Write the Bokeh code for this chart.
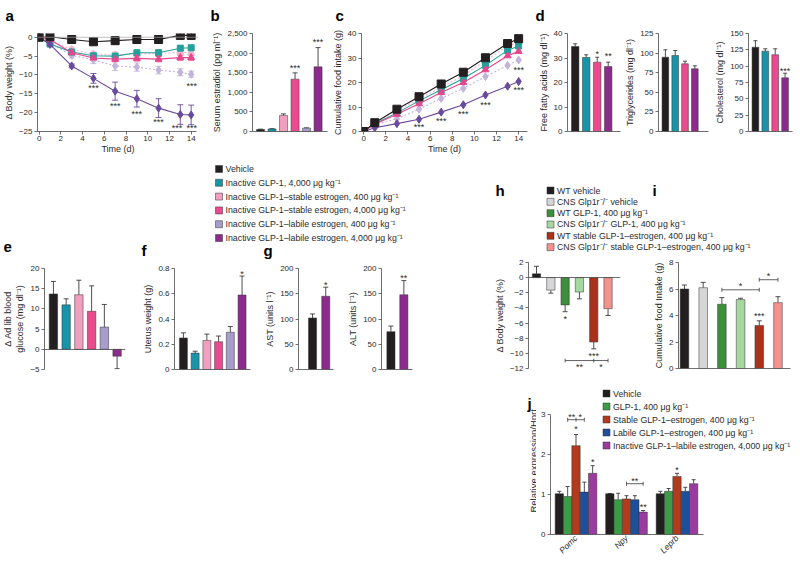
import math
from bokeh.plotting import figure
from bokeh.models import Range1d, FixedTicker, Whisker, TeeHead, Span, ColumnDataSource, Spacer
from bokeh.layouts import row, column
from bokeh.embed import file_html
from bokeh.resources import INLINE
from bokeh.core.properties import value

FONT = "Liberation Sans"
AXC = "#4a4a4a"
TXC = "#2b2b2b"
ERRC = "#3a3a3a"
BARL = "#333333"
LEGFS = "8.8px"

# ---------------- DATA ----------------
days = [0, 1, 3, 5, 7, 9, 11, 13, 14]
time_ticks = [0, 2, 4, 6, 8, 10, 12, 14]

groups6 = ["Vehicle",
           "Inactive GLP-1, 4,000 μg kg⁻¹",
           "Inactive GLP-1–stable estrogen, 400 μg kg⁻¹",
           "Inactive GLP-1–stable estrogen, 4,000 μg kg⁻¹",
           "Inactive GLP-1–labile estrogen, 400 μg kg⁻¹",
           "Inactive GLP-1–labile estrogen, 4,000 μg kg⁻¹"]
colors6 = ["#231f20", "#1993a8", "#f19fbf", "#ea4b8e", "#a79ccc", "#8b2c8d"]
line_colors6 = ["#231f20", "#23a09c", "#f2b3cb", "#e6468c", "#c3b3da", "#6a4a9c"]
markers6 = ["square", "square", "triangle", "triangle", "diamond", "diamond"]
marker_sizes6 = [8, 6, 7, 7, 8, 8]
dashes6 = ["solid", "solid", "2 2", "solid", "2 2", "solid"]

# a: change in body weight (%)
a_vehicle = [0, 0.15, -0.6, -1.2, -0.9, -0.6, -0.6, 0.5, 0.5]
a_vehicle_err = [0.2, 0.3, 0.4, 0.4, 1.0, 0.9, 0.9, 1.0, 1.0]
a_inactive = [0, -1.8, -3.9, -4.9, -5.0, -4.1, -4.1, -2.9, -2.8]
a_inactive_err = [0.1, 0.3, 0.5, 0.6, 0.6, 0.6, 0.7, 0.7, 0.7]
a_stable400 = [0, -1.0, -3.2, -4.5, -4.7, -4.4, -4.3, -4.0, -4.1]
a_stable400_err = [0.1, 0.3, 0.6, 0.8, 0.8, 0.8, 0.8, 0.8, 0.8]
a_stable4000 = [0, -0.6, -4.1, -5.5, -5.8, -5.6, -5.8, -5.4, -5.4]
a_stable4000_err = [0.1, 0.3, 0.6, 0.7, 0.7, 0.7, 0.7, 0.7, 0.7]
a_labile400 = [0, -1.5, -4.8, -6.0, -7.6, -7.9, -8.7, -9.3, -9.8]
a_labile400_err = [0.1, 0.3, 0.7, 1.0, 1.2, 1.1, 1.0, 0.9, 0.8]
a_labile4000 = [0, -1.9, -7.6, -10.9, -14.3, -16.3, -18.8, -20.5, -20.6]
a_labile4000_err = [0.1, 0.3, 0.5, 1.3, 2.4, 2.2, 2.5, 2.6, 2.6]
a_yticks = [0, -5, -10, -15, -20, -25]
a_star_x = [5, 7, 9, 11, 12.7, 14.05, 14.05]
a_star_y = [-12.8, -17.7, -19.8, -21.9, -23.5, -23.5, -12.4]
a_star_t = ["***"] * 7

# b: serum estradiol (pg/ml)
b_estradiol = [50, 65, 410, 1335, 85, 1650]
b_estradiol_err = [10, 6, 40, 160, 8, 490]
b_yticks = [0, 500, 1000, 1500, 2000, 2500]
b_star_x = [4, 6]
b_star_y = [1680, 2330]
b_star_t = ["***", "***"]

# c: cumulative food intake (g)
c_vehicle = [0, 3.6, 9.1, 14.2, 19.4, 24.2, 30.1, 35.9, 37.9]
c_inactive = [0, 3.2, 7.6, 12.5, 17.0, 21.6, 27.0, 33.1, 34.9]
c_stable400 = [0, 3.4, 8.6, 13.3, 18.0, 22.8, 29.0, 34.8, 36.5]
c_stable4000 = [0, 3.0, 7.0, 11.3, 15.9, 20.0, 25.2, 30.9, 32.7]
c_labile400 = [0, 2.8, 5.2, 9.1, 13.5, 17.6, 22.4, 27.0, 29.2]
c_labile4000 = [0, 1.5, 3.2, 5.0, 7.9, 10.9, 14.9, 18.5, 20.4]
c_yticks = [0, 10, 20, 30, 40]
c_star_x = [5, 7, 9, 11, 14, 14]
c_star_y = [2.8, 5.0, 8.0, 11.6, 17.6, 25.8]
c_star_t = ["***"] * 6

# d: plasma lipids (vehicle, inactive, stable 4000, labile 4000)
d_group_idx = [0, 1, 3, 5]
d_ffa = [34.7, 30.2, 28.3, 26.5]
d_ffa_err = [1.1, 1.1, 2.0, 1.8]
d_ffa_stars = ["", "", "*", "**"]
d_ffa_star_y = [0, 0, 32.4, 31.7]
d_tg = [94.8, 96.9, 86.4, 80.0]
d_tg_err = [9.4, 6.4, 3.3, 3.8]
d_chol = [129.0, 123.0, 117.4, 82.2]
d_chol_err = [10.0, 3.6, 9.2, 7.0]
d_chol_stars = ["", "", "", "***"]
d_chol_star_y = [0, 0, 0, 96.4]
d_ffa_ticks = [0, 10, 20, 30, 40]
d_tg_ticks = [0, 25, 50, 75, 100, 125]
d_chol_ticks = [0, 25, 50, 75, 100, 125, 150]

# e: ad lib blood glucose change
e_glucose = [13.7, 11.0, 13.5, 9.4, 5.5, -1.7]
e_glucose_err = [3.1, 1.5, 3.6, 6.3, 5.6, 3.1]
e_ticks = [-5, 0, 5, 10, 15, 20]

# f: uterus weight
f_uterus = [0.25, 0.13, 0.23, 0.22, 0.295, 0.59]
f_uterus_err = [0.04, 0.015, 0.05, 0.045, 0.045, 0.15]
f_ticks = [0, 0.2, 0.4, 0.6, 0.8]
f_star_x = [6]
f_star_y = [0.775]

# g: liver enzymes (vehicle, labile 4000)
g_group_idx = [0, 5]
g_ast = [102, 145]
g_ast_err = [8, 18]
g_alt = [75, 148]
g_alt_err = [11, 28]
g_ticks = [0, 50, 100, 150, 200]
g_ast_star_y = [172]
g_alt_star_y = [185]

# h / i: WT vs CNS Glp1r-/- mice
hi_groups = ["WT vehicle",
             "CNS Glp1r⁻/⁻ vehicle",
             "WT GLP-1, 400 μg kg⁻¹",
             "CNS Glp1r⁻/⁻ GLP-1, 400 μg kg⁻¹",
             "WT stable GLP-1–estrogen, 400 μg kg⁻¹",
             "CNS Glp1r⁻/⁻ stable GLP-1–estrogen, 400 μg kg⁻¹"]
hi_colors = ["#231f20", "#d6d6d8", "#3d8f3c", "#a7d7a0", "#a8321c", "#f39390"]
h_bw = [0.5, -1.65, -3.6, -1.9, -8.5, -4.1]
h_bw_err = [1.0, 0.4, 0.9, 0.9, 0.9, 0.9]
h_ticks = [2, 0, -2, -4, -6, -8, -10, -12]
h_star_x = [3, 5, 4, 5.5]
h_star_y = [-5.2, -10.15, -11.5, -11.5]
h_star_t = ["*", "***", "**", "*"]
h_brackets = [(3, 6, -10.95, [5])]
i_food = [6.0, 6.1, 4.85, 5.2, 3.25, 4.97]
i_food_err = [0.3, 0.4, 0.5, 0.1, 0.35, 0.45]
i_ticks = [0, 2, 4, 6, 8]
i_star_x = [5, 4, 5.5]
i_star_y = [4.13, 6.4, 7.15]
i_star_t = ["***", "*", "*"]
i_brackets = [(3, 5, 5.94, []), (5, 6, 6.7, [])]

# j: hypothalamic gene expression
j_genes = ["Pomc", "Npy", "Leprb"]
j_groups = ["Vehicle",
            "GLP-1, 400 μg kg⁻¹",
            "Stable GLP-1–estrogen, 400 μg kg⁻¹",
            "Labile GLP-1–estrogen, 400 μg kg⁻¹",
            "Inactive GLP-1–labile estrogen, 4,000 μg kg⁻¹"]
j_colors = ["#231f20", "#3c9b46", "#b23a1d", "#1e4f9b", "#9a3c9e"]
j_vehicle = [1.02, 1.02, 1.02]
j_vehicle_err = [0.06, 0.005, 0.06]
j_glp1 = [0.95, 0.87, 1.08]
j_glp1_err = [0.25, 0.16, 0.07]
j_stable = [2.22, 0.89, 1.45]
j_stable_err = [0.28, 0.08, 0.08]
j_labile = [1.06, 0.87, 1.08]
j_labile_err = [0.25, 0.10, 0.10]
j_inactive = [1.53, 0.56, 1.27]
j_inactive_err = [0.19, 0.04, 0.10]
j_ticks = [0, 1, 2, 3]
j_star_gene = [1, 1, 3, 2, 1, 1, 2]
j_star_group = [2, 4, 2, 4, 1.5, 2.5, 3]
j_star_y = [2.68, 1.87, 1.67, 0.75, 3.0, 3.0, 1.39]
j_star_t = ["*", "*", "*", "**", "**", "*", "**"]
j_brackets = [(1, 1, 3, 2.87, [2]), (2, 2, 4, 1.27, [])]

# ---------------- HELPERS ----------------
def fmt(t):
    if float(t).is_integer():
        s = f"{int(t):,}"
    else:
        s = f"{t:g}"
    return s.replace("-", "−")


def make_fig(w, h, xr, yr, l, r, t, b):
    p = figure(width=w, height=h, x_range=Range1d(*xr), y_range=Range1d(*yr),
               output_backend="svg", toolbar_location=None,
               min_border_left=l, min_border_right=r, min_border_top=t, min_border_bottom=b)
    p.outline_line_color = None
    p.grid.visible = False
    p.background_fill_color = "white"
    p.border_fill_color = "white"
    for ax in p.axis:
        ax.axis_line_color = AXC
        ax.axis_line_width = 0.8
        ax.major_tick_line_color = AXC
        ax.major_tick_line_width = 0.8
        ax.major_tick_out = 3
        ax.major_tick_in = 0
        ax.minor_tick_line_color = None
        ax.major_label_text_font = FONT
        ax.major_label_text_font_size = "8px"
        ax.major_label_text_color = TXC
        ax.axis_label_text_font = FONT
        ax.axis_label_text_font_size = "9px"
        ax.axis_label_text_font_style = "normal"
        ax.axis_label_text_color = TXC
        ax.major_label_standoff = 2
        ax.axis_label_standoff = 2
    return p


def set_yticks(p, ticks):
    p.yaxis.ticker = FixedTicker(ticks=ticks)
    p.yaxis.major_label_overrides = {t: fmt(t) for t in ticks}


def set_xticks(p, ticks):
    p.xaxis.ticker = FixedTicker(ticks=ticks)
    p.xaxis.major_label_overrides = {t: fmt(t) for t in ticks}
    p.xaxis.major_label_standoff = 1
    p.xaxis.axis_label_standoff = 0


def no_xticks(p):
    p.xaxis.ticker = FixedTicker(ticks=[])
    p.xaxis.major_tick_out = 0


def whisk(p, xs, lo, hi, color, head=5, low_head=True, up_head=True, lw=0.9):
    if not xs:
        return
    src = ColumnDataSource(dict(base=list(xs), lower=list(lo), upper=list(hi)))
    p.add_layout(Whisker(source=src, base="base", lower="lower", upper="upper",
                         line_color=color, line_width=lw,
                         upper_head=TeeHead(size=head, line_color=color, line_width=lw) if up_head else None,
                         lower_head=TeeHead(size=head, line_color=color, line_width=lw) if low_head else None))


def bars(p, xs, vals, errs, colors, width, head=5):
    p.vbar(x=xs, top=vals, bottom=0, width=width, fill_color=colors,
           line_color=BARL, line_width=0.5)
    sel_p = [(x, v, e) for x, v, e in zip(xs, vals, errs) if v >= 0 and e > 0]
    whisk(p, [s[0] for s in sel_p], [s[1] for s in sel_p], [s[1] + s[2] for s in sel_p],
          ERRC, head=head, low_head=False)
    sel_n = [(x, v, e) for x, v, e in zip(xs, vals, errs) if v < 0 and e > 0]
    whisk(p, [s[0] for s in sel_n], [s[1] - s[2] for s in sel_n], [s[1] for s in sel_n],
          ERRC, head=head, up_head=False)


def stars(p, xs, ys, labels, size="9px"):
    keep = [(x, y, t) for x, y, t in zip(xs, ys, labels) if t]
    if not keep:
        return
    p.text(x=[k[0] for k in keep], y=[k[1] for k in keep], text=[k[2] for k in keep],
           text_font=value(FONT), text_font_size=size, text_align="center",
           text_baseline="middle", text_color=TXC, y_offset=2)


def bracket(p, x0, x1, y, mids, tick):
    p.segment(x0=[x0], y0=[y], x1=[x1], y1=[y], line_color=ERRC, line_width=0.8)
    tx = [x0, x1] + list(mids)
    p.segment(x0=tx, y0=[y - tick] * len(tx), x1=tx, y1=[y + tick] * len(tx),
              line_color=ERRC, line_width=0.8)


def series(p, xs, ys, color, marker, dash, size):
    p.line(xs, ys, line_color=color, line_width=1.1, line_dash=dash)
    p.scatter(xs, ys, marker=marker, size=size, fill_color=color, line_color=color)


def pixel_fig(w, h):
    # blank canvas in pixel coordinates (y downwards), no axes: frame == whole canvas
    p = figure(width=w, height=h, x_range=Range1d(0, w), y_range=Range1d(h, 0),
               output_backend="svg", toolbar_location=None,
               x_axis_location=None, y_axis_location=None,
               min_border=0, min_border_left=0, min_border_right=0,
               min_border_top=0, min_border_bottom=0)
    p.outline_line_color = None
    p.grid.visible = False
    p.background_fill_color = "white"
    p.border_fill_color = "white"
    return p


def letters(p, xs, ys, txt):
    # ys give the top edge of the letters
    p.text(x=xs, y=ys, text=txt, text_font=value(FONT), text_font_size="15px",
           text_font_style="bold", text_baseline="top", text_align="left",
           text_color="black")


def legend_items(p, x, ys, labels, colors):
    p.scatter(x=[x] * len(labels), y=ys, marker="square", size=7,
              fill_color=colors, line_color=BARL, line_width=0.5)
    p.text(x=[x + 6.5] * len(labels), y=ys, text=labels, text_font=value(FONT),
           text_font_size=LEGFS, text_baseline="middle", text_align="left", text_color=TXC)


# ---------------- ROW 0: panel letters a-d (y 0..26) ----------------
strip = pixel_fig(800, 26)
letters(strip, [5, 210, 335, 535], [6, 6, 6, 6], ["a", "b", "c", "d"])

# ---------------- ROW 1 (y 26..160) ----------------
pa = make_fig(198, 134, (-0.15, 14.675), (-25, 1.0), 37, 0, 0, 29)
set_yticks(pa, a_yticks)
set_xticks(pa, time_ticks)
pa.xaxis.bounds = (-0.15, 14.45)
pa.xaxis.axis_label = "Time (d)"
pa.yaxis.axis_label = "Δ Body weight (%)"
pa.add_layout(Span(location=0, dimension="width", line_color="#a0a0a0", line_width=0.7))
a_series = [a_vehicle, a_inactive, a_stable400, a_stable4000, a_labile400, a_labile4000]
a_series_err = [a_vehicle_err, a_inactive_err, a_stable400_err, a_stable4000_err,
                a_labile400_err, a_labile4000_err]
for i in [2, 4, 1, 3, 5, 0]:
    m, e = a_series[i], a_series_err[i]
    whisk(pa, days, [v - d for v, d in zip(m, e)], [v + d for v, d in zip(m, e)],
          line_colors6[i], head=6)
    series(pa, days, m, line_colors6[i], markers6[i], dashes6[i], marker_sizes6[i])
stars(pa, a_star_x, a_star_y, a_star_t)

pb = make_fig(130, 134, (0.3, 6.82), (0, 2500), 54, 1, 5, 29)
set_yticks(pb, b_yticks)
no_xticks(pb)
pb.yaxis.axis_label = "Serum estradiol (pg ml⁻¹)"
bx = [1, 2, 3, 4, 5, 6]
bars(pb, bx, b_estradiol, b_estradiol_err, colors6, 0.7, head=5)
stars(pb, b_star_x, b_star_y, b_star_t)

pc = make_fig(207, 134, (-0.2, 14.8), (0, 40), 33, 8, 5, 29)
set_yticks(pc, c_yticks)
set_xticks(pc, time_ticks)
pc.xaxis.axis_label = "Time (d)"
pc.yaxis.axis_label = "Cumulative food intake (g)"
c_series = [c_vehicle, c_inactive, c_stable400, c_stable4000, c_labile400, c_labile4000]
for i in [2, 4, 1, 3, 5, 0]:
    series(pc, days, c_series[i], line_colors6[i], markers6[i], dashes6[i], marker_sizes6[i])
stars(pc, c_star_x, c_star_y, c_star_t)

d_cols = [colors6[k] for k in d_group_idx]
dx = [1, 2, 3, 4]
pd1 = make_fig(87, 134, (0.3, 5.12), (0, 40), 32, 2, 7, 29)
set_yticks(pd1, d_ffa_ticks)
no_xticks(pd1)
pd1.yaxis.axis_label = "Free fatty acids (mg dl⁻¹)"
bars(pd1, dx, d_ffa, d_ffa_err, d_cols, 0.68, head=4)
stars(pd1, dx, d_ffa_star_y, d_ffa_stars)

pd2 = make_fig(90, 134, (0.3, 5.39), (0, 125), 30, 4, 7, 29)
set_yticks(pd2, d_tg_ticks)
no_xticks(pd2)
pd2.yaxis.axis_label = "Triglycerides (mg dl⁻¹)"
bars(pd2, dx, d_tg, d_tg_err, d_cols, 0.68, head=4)

pd3 = make_fig(88, 134, (0.3, 4.75), (0, 150), 31, 8, 7, 29)
set_yticks(pd3, d_chol_ticks)
no_xticks(pd3)
pd3.yaxis.axis_label = "Cholesterol (mg dl⁻¹)"
bars(pd3, dx, d_chol, d_chol_err, d_cols, 0.68, head=4)
stars(pd3, dx, d_chol_star_y, d_chol_stars)

row1 = row(pa, pb, pc, pd1, pd2, pd3)

# ---------------- LEFT COLUMN (x 0..440, y 160..562) ----------------
leg1 = pixel_fig(440, 102)
legend_items(leg1, 218.5, [8.5 + 13.8 * k for k in range(len(groups6))], groups6, colors6)
letters(leg1, [3, 141, 263], [81, 81, 81], ["e", "f", "g"])

pe = make_fig(140, 113, (0.3, 6.66), (-5, 20), 43, 15, 6, 5)
set_yticks(pe, e_ticks)
no_xticks(pe)
pe.xaxis.fixed_location = 0
pe.yaxis.axis_label = "Δ Ad lib blood\nglucose (mg dl⁻¹)"
bars(pe, bx, e_glucose, e_glucose_err, colors6, 0.66, head=5)

pf = make_fig(122, 113, (0.24, 6.72), (0, 0.8), 29, 12, 6, 6)
set_yticks(pf, f_ticks)
no_xticks(pf)
pf.yaxis.axis_label = "Uterus weight (g)"
bars(pf, bx, f_uterus, f_uterus_err, colors6, 0.68, head=5)
stars(pf, f_star_x, f_star_y, ["*"])

g_cols = [colors6[k] for k in g_group_idx]
gx = [1, 2]
pg1 = make_fig(83, 113, (-0.06, 2.585), (0, 200), 30, 12, 6, 6)
set_yticks(pg1, g_ticks)
no_xticks(pg1)
pg1.yaxis.axis_label = "AST (units l⁻¹)"
bars(pg1, gx, g_ast, g_ast_err, g_cols, 0.61, head=5)
stars(pg1, [2], g_ast_star_y, ["*"])

pg2 = make_fig(95, 113, (0.27, 2.67), (0, 200), 31, 28, 6, 6)
set_yticks(pg2, g_ticks)
no_xticks(pg2)
pg2.yaxis.axis_label = "ALT (units l⁻¹)"
bars(pg2, gx, g_alt, g_alt_err, g_cols, 0.63, head=5)
stars(pg2, [2], g_alt_star_y, ["**"])

left_col = column(leg1, row(pe, pf, pg1, pg2), Spacer(width=440, height=187))

# ---------------- RIGHT COLUMN (x 440..800, y 160..562) ----------------
leg2 = pixel_fig(360, 93)
legend_items(leg2, 110, [30 + 11.33 * k for k in range(len(hi_groups))], hi_groups, hi_colors)
letters(leg2, [55, 212], [21, 21], ["h", "i"])

hx = [1, 2, 3, 4, 5, 6]
ph = make_fig(190, 127, (0.44, 6.87), (-12, 2), 88, 10, 9, 11)
set_yticks(ph, h_ticks)
no_xticks(ph)
ph.xaxis.fixed_location = 0
ph.yaxis.axis_label = "Δ Body weight (%)"
bars(ph, hx, h_bw, h_bw_err, hi_colors, 0.58, head=5)
for (x0, x1, y, mids) in h_brackets:
    bracket(ph, x0, x1, y, mids, 0.25)
stars(ph, h_star_x, h_star_y, h_star_t)

pi_ = make_fig(170, 127, (0.68, 6.67), (0, 8), 48, 10, 9, 12)
set_yticks(pi_, i_ticks)
no_xticks(pi_)
pi_.yaxis.axis_label = "Cumulative food Intake (g)"
bars(pi_, hx, i_food, i_food_err, hi_colors, 0.46, head=5)
for (x0, x1, y, mids) in i_brackets:
    bracket(pi_, x0, x1, y, mids, 0.15)
stars(pi_, i_star_x, i_star_y, i_star_t)

# j: left strip holds the panel letter and the y-axis title
jstrip = pixel_fig(96, 182)
letters(jstrip, [87], [11], ["j"])
jstrip.text(x=[93], y=[92], text=["Relative expression/Hprt"], angle=math.pi / 2,
            text_font=value(FONT), text_font_size="9.5px", text_align="center",
            text_baseline="middle", text_color=TXC)

J_X0, J_PX = 0.495, 50.5      # x range start, px per gene unit
J_PY = 40.0                   # px per expression unit
J_FH = 149                    # frame height (px)
pj = make_fig(264, 182, (J_X0, J_X0 + 248 / J_PX), (0, J_FH / J_PY), 14, 2, 5, 28)
set_yticks(pj, j_ticks)
pj.yaxis.bounds = (0, 3)
pj.xaxis.ticker = FixedTicker(ticks=[1, 2, 3])
pj.xaxis.major_label_overrides = {k + 1: g for k, g in enumerate(j_genes)}
pj.xaxis.major_label_orientation = math.pi / 4
pj.xaxis.major_label_text_font_style = "italic"
pj.xaxis.major_label_text_font_size = "8.5px"
pj.xaxis.major_tick_line_color = None
pj.xaxis.major_tick_out = 0
pj.xaxis.bounds = (J_X0, 3.52)
j_series = [j_vehicle, j_glp1, j_stable, j_labile, j_inactive]
j_series_err = [j_vehicle_err, j_glp1_err, j_stable_err, j_labile_err, j_inactive_err]
gene_x = [1, 2, 3]
J_OFF = 0.165
for gi in range(5):
    xs = [g + (gi - 2) * J_OFF for g in gene_x]
    bars(pj, xs, j_series[gi], j_series_err[gi], [j_colors[gi]] * 3, J_OFF, head=4)
for (g, a0, a1, y, mids) in j_brackets:
    bracket(pj, g + (a0 - 2) * J_OFF, g + (a1 - 2) * J_OFF, y,
            [g + (m - 2) * J_OFF for m in mids], 0.05)
stars(pj, [g + (k - 2) * J_OFF for g, k in zip(j_star_gene, j_star_group)], j_star_y, j_star_t)
# legend of j, in the empty upper right part of the frame
jl_y = [(J_FH - (8 + 13 * k)) / J_PY for k in range(len(j_groups))]
pj.scatter(x=[J_X0 + 56 / J_PX] * len(j_groups), y=jl_y, marker="square", size=7,
           fill_color=j_colors, line_color=BARL, line_width=0.5)
pj.text(x=[J_X0 + 62.5 / J_PX] * len(j_groups), y=jl_y, text=j_groups, text_font=value(FONT),
        text_font_size=LEGFS, text_baseline="middle", text_align="left", text_color=TXC)

right_col = column(leg2, row(ph, pi_), row(jstrip, pj))

layout = column(strip, row1, row(left_col, right_col))

open("out.html", "w").write(file_html(layout, INLINE))
